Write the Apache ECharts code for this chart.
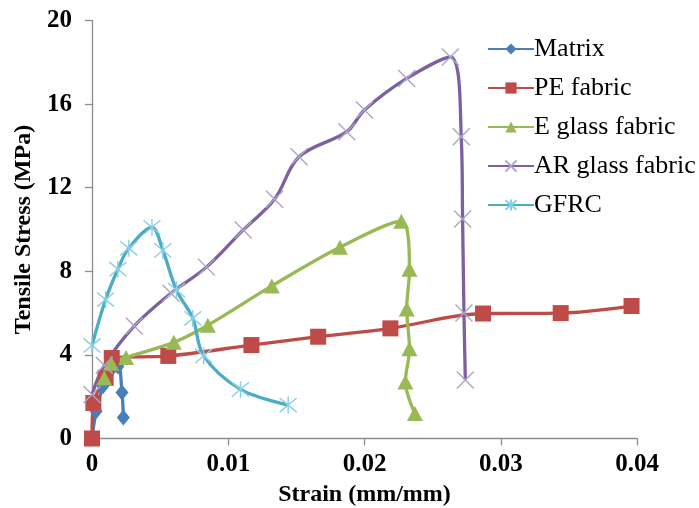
<!DOCTYPE html>
<html>
<head>
<meta charset="utf-8">
<script src="https://cdn.jsdelivr.net/npm/echarts@6/dist/echarts.min.js"></script>
<style>html,body{margin:0;padding:0;background:#fff;}#c{width:699px;height:508px;}</style>
</head>
<body>
<div id="c"></div>
<script>
const seriesNames = ['Matrix', 'PE fabric', 'E glass fabric', 'AR glass fabric', 'GFRC'];
const xTicks = [0, 0.01, 0.02, 0.03, 0.04];
const yTicks = [0, 4, 8, 12, 16, 20];
const matrix = [[0,0],[0.0003,1.3],[0.0008,2.5],[0.0013,3.2],[0.0019,3.45],[0.0022,2.2],[0.0023,1.0]];
const peFabric = [[0,0],[0.0001,1.7],[0.001,2.9],[0.00145,3.85],[0.0056,3.95],[0.0117,4.47],[0.0166,4.87],[0.0219,5.27],[0.0287,5.98],[0.0344,6.0],[0.0396,6.34]];
const eGlass = [[0.0009,2.9],[0.0014,3.6],[0.0025,3.88],[0.006,4.6],[0.0085,5.42],[0.0132,7.3],[0.0182,9.15],[0.0227,10.4],[0.0233,8.1],[0.0231,6.2],[0.0233,4.3],[0.023,2.7],[0.0237,1.2]];
const arGlass = [[0,2.1],[0.0009,3.5],[0.0031,5.38],[0.0058,6.95],[0.0084,8.2],[0.0111,9.98],[0.0134,11.45],[0.0152,13.48],[0.0187,14.68],[0.02,15.72],[0.0231,17.23],[0.0263,18.25],[0.0271,14.44],[0.0272,10.5],[0.0273,6.0],[0.0274,2.8]];
const gfrc = [[0,4.45],[0.001,6.65],[0.0019,8.1],[0.0027,9.1],[0.0044,10.1],[0.0052,9.0],[0.0062,7.1],[0.0074,5.75],[0.0082,3.95],[0.0109,2.35],[0.0144,1.6]];

const fontFam = '"Liberation Serif", "Times New Roman", serif';
const X_PATH = 'path://M0,0L10,10M10,0L0,10';
const STAR_PATH = 'path://M0,0L10,10M10,0L0,10M5,-1L5,11';

function mk(name, data, color, symbol, size, extra) {
  return Object.assign({
    name: name, type: 'line', data: data, smooth: 0.35,
    symbol: symbol, symbolSize: size,
    lineStyle: {color: color, width: 3.3},
    itemStyle: {color: color},
    emphasis: {disabled: true},
    animation: false
  }, extra || {});
}

const chart = echarts.init(document.getElementById('c'), null, {renderer: 'canvas'});
chart.setOption({
  backgroundColor: '#fff',
  animation: false,
  grid: {left: 92, right: 62, top: 20.5, bottom: 69.5, containLabel: false, outerBoundsMode: 'none'},
  legend: {
    orient: 'vertical', left: 482, top: 31, itemWidth: 46, itemHeight: 14, itemGap: 13,
    data: seriesNames,
    textStyle: {fontFamily: fontFam, fontSize: 26, color: '#000', padding: [0,0,0,-5]}
  },
  xAxis: {
    type: 'value', min: xTicks[0], max: xTicks[xTicks.length-1], interval: 0.01,
    name: 'Strain (mm/mm)', nameLocation: 'middle', nameGap: 44,
    nameTextStyle: {fontFamily: fontFam, fontSize: 24, fontWeight: 'bold', color: '#000'},
    axisLine: {lineStyle: {color: '#8c8c8c', width: 1.3}},
    axisTick: {show: true, length: 7, lineStyle: {color: '#8c8c8c', width: 1.3}},
    axisLabel: {fontFamily: fontFam, fontSize: 25, fontWeight: 'bold', color: '#000', margin: 14,
      formatter: v => String(+v.toFixed(2))},
    splitLine: {show: false}
  },
  yAxis: {
    type: 'value', min: yTicks[0], max: yTicks[yTicks.length-1], interval: 4,
    name: 'Tensile Stress (MPa)', nameLocation: 'middle', nameGap: 52,
    nameTextStyle: {fontFamily: fontFam, fontSize: 24, fontWeight: 'bold', color: '#000'},
    axisLine: {show: true, lineStyle: {color: '#8c8c8c', width: 1.3}},
    axisTick: {show: true, length: 7, lineStyle: {color: '#8c8c8c', width: 1.3}},
    axisLabel: {fontFamily: fontFam, fontSize: 25, fontWeight: 'bold', color: '#000', margin: 20},
    splitLine: {show: false}
  },
  series: [
    mk(seriesNames[0], matrix, '#4A7EBB', 'diamond', [13, 16]),
    mk(seriesNames[1], peFabric, '#BE4B48', 'rect', 16),
    mk(seriesNames[2], eGlass, '#98B954', 'triangle', [16, 15]),
    mk(seriesNames[3], arGlass, '#7D60A0', X_PATH, 17, {itemStyle: {color: '#7D60A0', borderColor: '#aaa6c6', borderWidth: 1.4}}),
    mk(seriesNames[4], gfrc, '#4BACC6', STAR_PATH, 17, {itemStyle: {color: '#4BACC6', borderColor: '#88d0e6', borderWidth: 1.4}})
  ]
});
</script>
</body>
</html>
